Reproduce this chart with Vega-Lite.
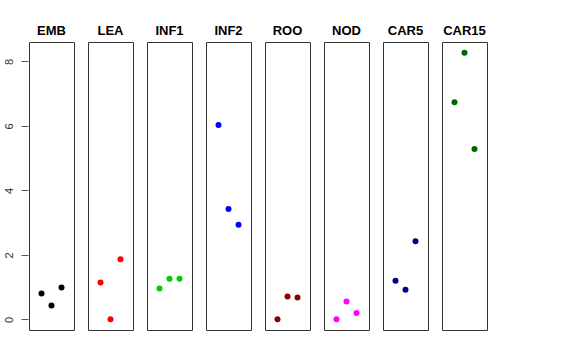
{
  "$schema": "https://vega.github.io/schema/vega-lite/v6.json",
  "padding": {"left": 3, "top": 25, "right": 5, "bottom": 5},
  "background": "white",
  "data": {"values": [
    {"panel": "EMB", "idx": 1, "value": 0.80},
    {"panel": "EMB", "idx": 2, "value": 0.43},
    {"panel": "EMB", "idx": 3, "value": 0.99},
    {"panel": "LEA", "idx": 1, "value": 1.14},
    {"panel": "LEA", "idx": 2, "value": 0.00},
    {"panel": "LEA", "idx": 3, "value": 1.86},
    {"panel": "INF1", "idx": 1, "value": 0.96},
    {"panel": "INF1", "idx": 2, "value": 1.26},
    {"panel": "INF1", "idx": 3, "value": 1.26},
    {"panel": "INF2", "idx": 1, "value": 6.03},
    {"panel": "INF2", "idx": 2, "value": 3.42},
    {"panel": "INF2", "idx": 3, "value": 2.93},
    {"panel": "ROO", "idx": 1, "value": 0.00},
    {"panel": "ROO", "idx": 2, "value": 0.71},
    {"panel": "ROO", "idx": 3, "value": 0.68},
    {"panel": "NOD", "idx": 1, "value": 0.00},
    {"panel": "NOD", "idx": 2, "value": 0.55},
    {"panel": "NOD", "idx": 3, "value": 0.20},
    {"panel": "CAR5", "idx": 1, "value": 1.20},
    {"panel": "CAR5", "idx": 2, "value": 0.92},
    {"panel": "CAR5", "idx": 3, "value": 2.42},
    {"panel": "CAR15", "idx": 1, "value": 6.73},
    {"panel": "CAR15", "idx": 2, "value": 8.27},
    {"panel": "CAR15", "idx": 3, "value": 5.28}
  ]},
  "facet": {
    "column": {
      "field": "panel",
      "type": "nominal",
      "sort": ["EMB", "LEA", "INF1", "INF2", "ROO", "NOD", "CAR5", "CAR15"],
      "header": {
        "title": null,
        "labelFont": "Liberation Sans",
        "labelFontSize": 13,
        "labelFontWeight": "bold",
        "labelColor": "black",
        "labelPadding": 3
      }
    }
  },
  "spacing": 12,
  "spec": {
    "width": 45,
    "height": 288,
    "mark": {"type": "point", "filled": true, "opacity": 1, "size": 36, "shape": "circle"},
    "encoding": {
      "x": {"field": "idx", "type": "quantitative", "scale": {"domain": [-0.25, 4.25], "nice": false, "zero": false}, "axis": null},
      "y": {
        "field": "value", "type": "quantitative",
        "scale": {"domain": [-0.33, 8.6], "nice": false, "zero": false},
        "axis": {
          "title": null, "grid": false, "domain": false,
          "values": [0, 2, 4, 6, 8],
          "tickSize": 7, "tickColor": "#555", "tickWidth": 1,
          "labelAngle": -90, "labelAlign": "center", "labelBaseline": "bottom",
          "labelPadding": 7, "labelFont": "Liberation Sans", "labelFontSize": 11, "labelColor": "#333"
        }
      },
      "color": {
        "field": "panel", "type": "nominal", "legend": null,
        "scale": {
          "domain": ["EMB", "LEA", "INF1", "INF2", "ROO", "NOD", "CAR5", "CAR15"],
          "range": ["#000000", "#FF0000", "#00CD00", "#0000FF", "#8B0000", "#FF00FF", "#00008B", "#006400"]
        }
      }
    }
  },
  "config": {
    "view": {"stroke": "#333", "strokeWidth": 1}
  }
}
